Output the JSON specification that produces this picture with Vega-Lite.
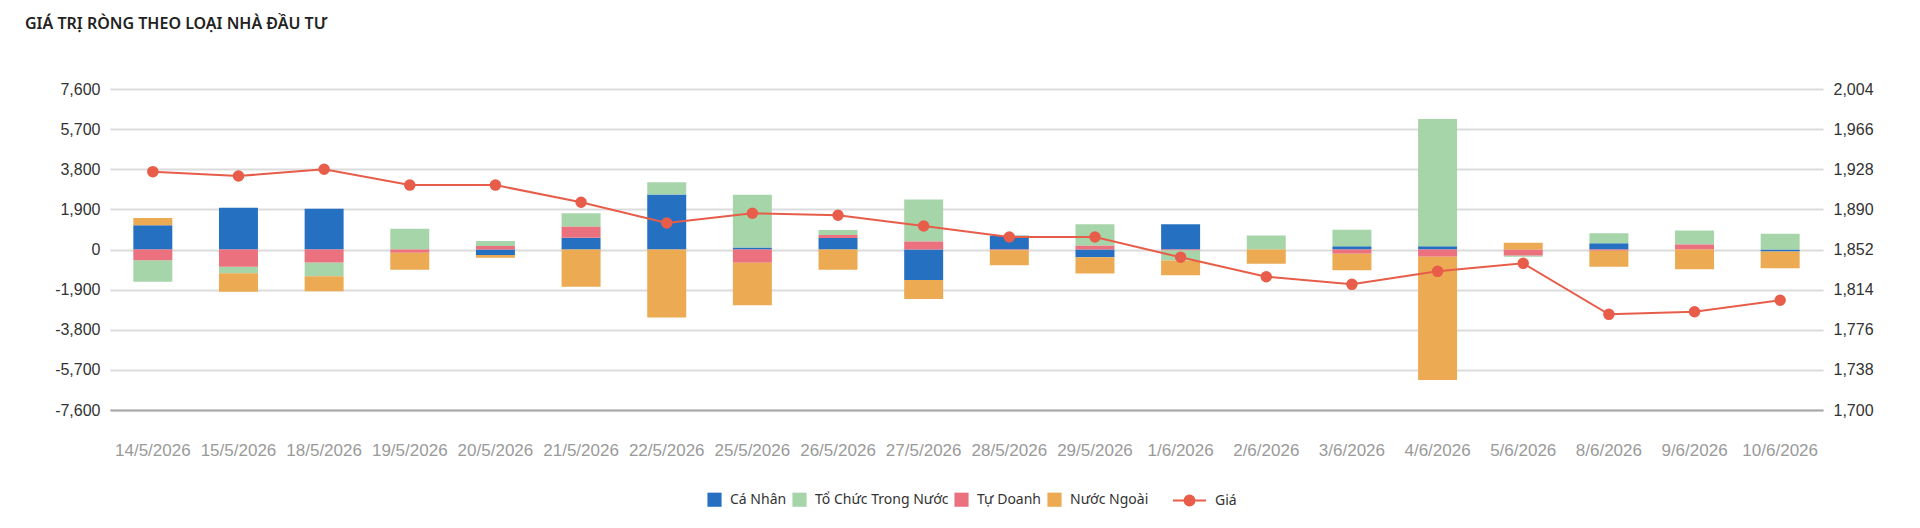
{
  "$schema": "https://vega.github.io/schema/vega-lite/v6.json",
  "width": 1713,
  "height": 321,
  "autosize": {"type": "none"},
  "padding": {"left": 110, "top": 89, "right": 97, "bottom": 118},
  "background": "white",
  "title": {
    "text": "GIÁ TRỊ RÒNG THEO LOẠI NHÀ ĐẦU TƯ",
    "anchor": "start",
    "frame": "group",
    "font": "Noto Sans",
    "fontSize": 16,
    "fontWeight": 600,
    "color": "#222222",
    "dx": -85,
    "offset": 49
  },
  "config": {
    "view": {"stroke": null},
    "axis": {
      "labelFont": "Liberation Sans",
      "labelFontSize": 16,
      "labelColor": "#333333",
      "ticks": false,
      "domain": false,
      "title": null
    },
    "legend": {
      "labelFont": "Noto Sans",
      "labelFontSize": 14,
      "labelColor": "#333333",
      "title": null
    }
  },
  "datasets": {
    "bars": [
      {"ngay": "14/5/2026", "loai": "Cá Nhân", "giaTri": 1150},
      {"ngay": "14/5/2026", "loai": "Tổ Chức Trong Nước", "giaTri": -1026},
      {"ngay": "14/5/2026", "loai": "Tự Doanh", "giaTri": -505},
      {"ngay": "14/5/2026", "loai": "Nước Ngoài", "giaTri": 347},
      {"ngay": "15/5/2026", "loai": "Cá Nhân", "giaTri": 1974},
      {"ngay": "15/5/2026", "loai": "Tổ Chức Trong Nước", "giaTri": -300},
      {"ngay": "15/5/2026", "loai": "Tự Doanh", "giaTri": -821},
      {"ngay": "15/5/2026", "loai": "Nước Ngoài", "giaTri": -884},
      {"ngay": "18/5/2026", "loai": "Cá Nhân", "giaTri": 1926},
      {"ngay": "18/5/2026", "loai": "Tổ Chức Trong Nước", "giaTri": -647},
      {"ngay": "18/5/2026", "loai": "Tự Doanh", "giaTri": -616},
      {"ngay": "18/5/2026", "loai": "Nước Ngoài", "giaTri": -711},
      {"ngay": "19/5/2026", "loai": "Cá Nhân", "giaTri": 0},
      {"ngay": "19/5/2026", "loai": "Tổ Chức Trong Nước", "giaTri": 979},
      {"ngay": "19/5/2026", "loai": "Tự Doanh", "giaTri": -150},
      {"ngay": "19/5/2026", "loai": "Nước Ngoài", "giaTri": -805},
      {"ngay": "20/5/2026", "loai": "Cá Nhân", "giaTri": -260},
      {"ngay": "20/5/2026", "loai": "Tổ Chức Trong Nước", "giaTri": 237},
      {"ngay": "20/5/2026", "loai": "Tự Doanh", "giaTri": 166},
      {"ngay": "20/5/2026", "loai": "Nước Ngoài", "giaTri": -126},
      {"ngay": "21/5/2026", "loai": "Cá Nhân", "giaTri": 553},
      {"ngay": "21/5/2026", "loai": "Tổ Chức Trong Nước", "giaTri": 647},
      {"ngay": "21/5/2026", "loai": "Tự Doanh", "giaTri": 521},
      {"ngay": "21/5/2026", "loai": "Nước Ngoài", "giaTri": -1769},
      {"ngay": "22/5/2026", "loai": "Cá Nhân", "giaTri": 2605},
      {"ngay": "22/5/2026", "loai": "Tổ Chức Trong Nước", "giaTri": 584},
      {"ngay": "22/5/2026", "loai": "Tự Doanh", "giaTri": 0},
      {"ngay": "22/5/2026", "loai": "Nước Ngoài", "giaTri": -3221},
      {"ngay": "25/5/2026", "loai": "Cá Nhân", "giaTri": 95},
      {"ngay": "25/5/2026", "loai": "Tổ Chức Trong Nước", "giaTri": 2495},
      {"ngay": "25/5/2026", "loai": "Tự Doanh", "giaTri": -632},
      {"ngay": "25/5/2026", "loai": "Nước Ngoài", "giaTri": -2005},
      {"ngay": "26/5/2026", "loai": "Cá Nhân", "giaTri": 540},
      {"ngay": "26/5/2026", "loai": "Tổ Chức Trong Nước", "giaTri": 237},
      {"ngay": "26/5/2026", "loai": "Tự Doanh", "giaTri": 142},
      {"ngay": "26/5/2026", "loai": "Nước Ngoài", "giaTri": -960},
      {"ngay": "27/5/2026", "loai": "Cá Nhân", "giaTri": -1440},
      {"ngay": "27/5/2026", "loai": "Tổ Chức Trong Nước", "giaTri": 1990},
      {"ngay": "27/5/2026", "loai": "Tự Doanh", "giaTri": 379},
      {"ngay": "27/5/2026", "loai": "Nước Ngoài", "giaTri": -900},
      {"ngay": "28/5/2026", "loai": "Cá Nhân", "giaTri": 650},
      {"ngay": "28/5/2026", "loai": "Tổ Chức Trong Nước", "giaTri": 30},
      {"ngay": "28/5/2026", "loai": "Tự Doanh", "giaTri": -40},
      {"ngay": "28/5/2026", "loai": "Nước Ngoài", "giaTri": -700},
      {"ngay": "29/5/2026", "loai": "Cá Nhân", "giaTri": -365},
      {"ngay": "29/5/2026", "loai": "Tổ Chức Trong Nước", "giaTri": 1014},
      {"ngay": "29/5/2026", "loai": "Tự Doanh", "giaTri": 180},
      {"ngay": "29/5/2026", "loai": "Nước Ngoài", "giaTri": -772},
      {"ngay": "1/6/2026", "loai": "Cá Nhân", "giaTri": 1190},
      {"ngay": "1/6/2026", "loai": "Tổ Chức Trong Nước", "giaTri": -475},
      {"ngay": "1/6/2026", "loai": "Tự Doanh", "giaTri": -40},
      {"ngay": "1/6/2026", "loai": "Nước Ngoài", "giaTri": -710},
      {"ngay": "2/6/2026", "loai": "Cá Nhân", "giaTri": 0},
      {"ngay": "2/6/2026", "loai": "Tổ Chức Trong Nước", "giaTri": 663},
      {"ngay": "2/6/2026", "loai": "Tự Doanh", "giaTri": 0},
      {"ngay": "2/6/2026", "loai": "Nước Ngoài", "giaTri": -679},
      {"ngay": "3/6/2026", "loai": "Cá Nhân", "giaTri": 158},
      {"ngay": "3/6/2026", "loai": "Tổ Chức Trong Nước", "giaTri": 774},
      {"ngay": "3/6/2026", "loai": "Tự Doanh", "giaTri": -205},
      {"ngay": "3/6/2026", "loai": "Nước Ngoài", "giaTri": -774},
      {"ngay": "4/6/2026", "loai": "Cá Nhân", "giaTri": 150},
      {"ngay": "4/6/2026", "loai": "Tổ Chức Trong Nước", "giaTri": 6030},
      {"ngay": "4/6/2026", "loai": "Tự Doanh", "giaTri": -347},
      {"ngay": "4/6/2026", "loai": "Nước Ngoài", "giaTri": -5836},
      {"ngay": "5/6/2026", "loai": "Cá Nhân", "giaTri": 0},
      {"ngay": "5/6/2026", "loai": "Tổ Chức Trong Nước", "giaTri": -63},
      {"ngay": "5/6/2026", "loai": "Tự Doanh", "giaTri": -284},
      {"ngay": "5/6/2026", "loai": "Nước Ngoài", "giaTri": 316},
      {"ngay": "8/6/2026", "loai": "Cá Nhân", "giaTri": 300},
      {"ngay": "8/6/2026", "loai": "Tổ Chức Trong Nước", "giaTri": 474},
      {"ngay": "8/6/2026", "loai": "Tự Doanh", "giaTri": -60},
      {"ngay": "8/6/2026", "loai": "Nước Ngoài", "giaTri": -760},
      {"ngay": "9/6/2026", "loai": "Cá Nhân", "giaTri": 0},
      {"ngay": "9/6/2026", "loai": "Tổ Chức Trong Nước", "giaTri": 663},
      {"ngay": "9/6/2026", "loai": "Tự Doanh", "giaTri": 237},
      {"ngay": "9/6/2026", "loai": "Nước Ngoài", "giaTri": -932},
      {"ngay": "10/6/2026", "loai": "Cá Nhân", "giaTri": -95},
      {"ngay": "10/6/2026", "loai": "Tổ Chức Trong Nước", "giaTri": 742},
      {"ngay": "10/6/2026", "loai": "Tự Doanh", "giaTri": 0},
      {"ngay": "10/6/2026", "loai": "Nước Ngoài", "giaTri": -790}
    ],
    "price": [
      {"ngay": "14/5/2026", "gia": 1925.7},
      {"ngay": "15/5/2026", "gia": 1921.6},
      {"ngay": "18/5/2026", "gia": 1928.0},
      {"ngay": "19/5/2026", "gia": 1913.0},
      {"ngay": "20/5/2026", "gia": 1913.0},
      {"ngay": "21/5/2026", "gia": 1896.7},
      {"ngay": "22/5/2026", "gia": 1877.1},
      {"ngay": "25/5/2026", "gia": 1886.3},
      {"ngay": "26/5/2026", "gia": 1884.4},
      {"ngay": "27/5/2026", "gia": 1874.3},
      {"ngay": "28/5/2026", "gia": 1863.8},
      {"ngay": "29/5/2026", "gia": 1863.8},
      {"ngay": "1/6/2026", "gia": 1844.6},
      {"ngay": "2/6/2026", "gia": 1826.2},
      {"ngay": "3/6/2026", "gia": 1819.0},
      {"ngay": "4/6/2026", "gia": 1831.3},
      {"ngay": "5/6/2026", "gia": 1838.9},
      {"ngay": "8/6/2026", "gia": 1790.6},
      {"ngay": "9/6/2026", "gia": 1793.1},
      {"ngay": "10/6/2026", "gia": 1803.9}
    ]
  },
  "encoding": {
    "x": {
      "field": "ngay",
      "type": "nominal",
      "sort": null,
      "scale": {
        "domain": ["14/5/2026","15/5/2026","18/5/2026","19/5/2026","20/5/2026","21/5/2026","22/5/2026","25/5/2026","26/5/2026","27/5/2026","28/5/2026","29/5/2026","1/6/2026","2/6/2026","3/6/2026","4/6/2026","5/6/2026","8/6/2026","9/6/2026","10/6/2026"],
        "paddingInner": 0.545,
        "paddingOuter": 0.2725
      },
      "axis": {
        "labelAngle": 0,
        "labelColor": "#9a9a9a",
        "labelFontSize": 17,
        "labelPadding": 32,
        "domain": true,
        "domainColor": "#a8a8a8",
        "domainWidth": 2,
        "zindex": 1
      }
    }
  },
  "layer": [
    {
      "data": {"name": "bars"},
      "transform": [
        {"calculate": "indexof(['Cá Nhân','Tự Doanh','Tổ Chức Trong Nước','Nước Ngoài'], datum.loai)", "as": "thuTu"}
      ],
      "mark": {"type": "bar"},
      "encoding": {
        "y": {
          "field": "giaTri",
          "type": "quantitative",
          "stack": "zero",
          "scale": {"domain": [-7600, 7600], "nice": false, "zero": false},
          "axis": {
            "values": [-7600, -5700, -3800, -1900, 0, 1900, 3800, 5700, 7600],
            "format": ",.0f",
            "labelExpr": "replace(datum.label, '−', '-')",
            "labelPadding": 10,
            "grid": true,
            "gridColor": "#dcdcdc",
            "gridWidth": 2
          }
        },
        "fill": {
          "field": "loai",
          "type": "nominal",
          "scale": {
            "domain": ["Cá Nhân", "Tổ Chức Trong Nước", "Tự Doanh", "Nước Ngoài"],
            "range": ["#2670c2", "#a7d5aa", "#ec717f", "#ecaa52"]
          },
          "legend": {
            "orient": "none",
            "direction": "horizontal",
            "legendX": 597,
            "legendY": 403,
            "symbolType": "square",
            "symbolSize": 200,
            "symbolStrokeWidth": 0,
            "labelOffset": 8,
            "columnPadding": 5
          }
        },
        "order": {"field": "thuTu", "type": "quantitative"}
      }
    },
    {
      "data": {"name": "price"},
      "mark": {
        "type": "line",
        "strokeWidth": 2,
        "point": {"filled": true, "size": 90, "color": "#e85d4a", "opacity": 1}
      },
      "encoding": {
        "y": {
          "field": "gia",
          "type": "quantitative",
          "scale": {"domain": [1700, 2004], "nice": false, "zero": false},
          "axis": {
            "orient": "right",
            "values": [1700, 1738, 1776, 1814, 1852, 1890, 1928, 1966, 2004],
            "format": ",.0f",
            "labelPadding": 10,
            "grid": false
          }
        },
        "stroke": {
          "datum": "Giá",
          "type": "nominal",
          "scale": {"range": ["#e85d4a"]},
          "legend": {
            "orient": "none",
            "legendX": 1062,
            "legendY": 394,
            "symbolType": "M-1,0L1,0M-0.3,0A0.3,0.3,0,1,0,0.3,0A0.3,0.3,0,1,0,-0.3,0",
            "symbolSize": 1089,
            "symbolStrokeWidth": 2,
            "symbolFillColor": "#e85d4a",
            "labelOffset": 8
          }
        }
      }
    }
  ],
  "resolve": {"scale": {"y": "independent"}}
}
